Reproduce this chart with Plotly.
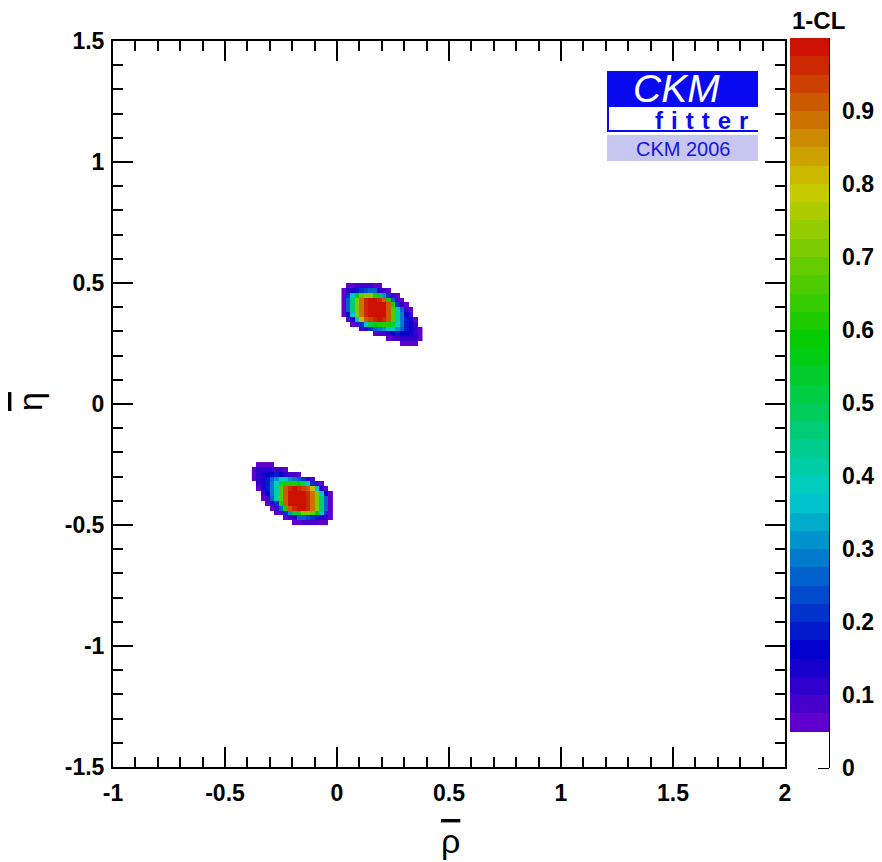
import colorsys
import plotly.graph_objects as go

# ---------------------------------------------------------------- axes
rho_range = [-1.0, 2.0]
eta_range = [-1.5, 1.5]
rho_ticks = [-1, -0.5, 0, 0.5, 1, 1.5, 2]
rho_tick_text = ["-1", "-0.5", "0", "0.5", "1", "1.5", "2"]
eta_ticks = [-1.5, -1, -0.5, 0, 0.5, 1, 1.5]
eta_tick_text = ["-1.5", "-1", "-0.5", "0", "0.5", "1", "1.5"]
cl_ticks = [0, 0.1, 0.2, 0.3, 0.4, 0.5, 0.6, 0.7, 0.8, 0.9]
cl_tick_text = ["0", "0.1", "0.2", "0.3", "0.4", "0.5", "0.6", "0.7", "0.8", "0.9"]

# ------------------------------------------- 1-CL maps (percent, 0 = not shown)
# solution with eta > 0 : columns are rho bin centres, rows go from top to bottom
upper_rho = [0.03, 0.05, 0.07, 0.09, 0.11, 0.13, 0.15, 0.17, 0.19,
             0.21, 0.23, 0.25, 0.27, 0.29, 0.31, 0.33, 0.35, 0.37]
upper_eta = [0.49, 0.47, 0.45, 0.43, 0.41, 0.39, 0.37, 0.35, 0.33,
             0.31, 0.29, 0.27, 0.25]
upper_cl = [
    [0, 7, 7, 8, 8, 8, 8, 7, 7, 0, 0, 0, 0, 0, 0, 0, 0, 0],
    [7, 10, 14, 19, 22, 24, 25, 25, 12, 8, 7, 0, 0, 0, 0, 0, 0, 0],
    [7, 21, 37, 55, 68, 72, 70, 62, 50, 30, 20, 8, 7, 0, 0, 0, 0, 0],
    [7, 25, 45, 70, 88, 96, 100, 100, 95, 90, 60, 25, 9, 7, 0, 0, 0, 0],
    [7, 25, 45, 70, 88, 96, 100, 100, 100, 98, 92, 60, 21, 10, 7, 0, 0, 0],
    [7, 25, 45, 70, 88, 96, 100, 100, 100, 98, 92, 65, 40, 26, 9, 6, 0, 0],
    [7, 15, 37, 70, 88, 96, 100, 100, 100, 98, 92, 65, 40, 28, 17, 8, 0, 0],
    [0, 7, 14, 35, 80, 90, 93, 97, 98, 97, 92, 65, 40, 28, 18, 13, 7, 0],
    [0, 0, 7, 8, 22, 35, 50, 55, 60, 62, 60, 50, 38, 28, 18, 14, 10, 0],
    [0, 0, 0, 0, 8, 12, 20, 25, 28, 30, 35, 38, 32, 26, 18, 14, 10, 7],
    [0, 0, 0, 0, 0, 0, 0, 7, 8, 9, 12, 16, 18, 16, 15, 13, 10, 7],
    [0, 0, 0, 0, 0, 0, 0, 0, 0, 0, 7, 8, 8, 10, 10, 10, 10, 7],
    [0, 0, 0, 0, 0, 0, 0, 0, 0, 0, 0, 0, 0, 7, 7, 7, 7, 0],
]

# solution with eta < 0
lower_rho = [-0.37, -0.35, -0.33, -0.31, -0.29, -0.27, -0.25, -0.23, -0.21,
             -0.19, -0.17, -0.15, -0.13, -0.11, -0.09, -0.07, -0.05, -0.03]
lower_eta = [-0.25, -0.27, -0.29, -0.31, -0.33, -0.35, -0.37, -0.39, -0.41,
             -0.43, -0.45, -0.47, -0.49]
lower_cl = [
    [0, 7, 7, 7, 7, 0, 0, 0, 0, 0, 0, 0, 0, 0, 0, 0, 0, 0],
    [7, 10, 10, 10, 10, 8, 8, 7, 0, 0, 0, 0, 0, 0, 0, 0, 0, 0],
    [7, 10, 13, 15, 16, 18, 16, 12, 9, 8, 7, 0, 0, 0, 0, 0, 0, 0],
    [7, 10, 14, 18, 26, 32, 38, 35, 30, 28, 25, 20, 12, 8, 0, 0, 0, 0],
    [0, 10, 14, 18, 28, 38, 50, 60, 62, 60, 55, 50, 35, 22, 8, 7, 0, 0],
    [0, 7, 13, 18, 28, 40, 65, 92, 97, 98, 97, 93, 90, 80, 35, 14, 7, 0],
    [0, 0, 8, 17, 28, 40, 65, 92, 98, 100, 100, 100, 96, 88, 70, 37, 15, 7],
    [0, 0, 6, 9, 26, 40, 65, 92, 98, 100, 100, 100, 96, 88, 70, 45, 25, 7],
    [0, 0, 0, 7, 10, 21, 60, 92, 98, 100, 100, 100, 96, 88, 70, 45, 25, 7],
    [0, 0, 0, 0, 7, 9, 25, 60, 90, 95, 100, 100, 96, 88, 70, 45, 25, 7],
    [0, 0, 0, 0, 0, 7, 8, 20, 30, 50, 62, 70, 72, 68, 55, 37, 21, 7],
    [0, 0, 0, 0, 0, 0, 0, 7, 8, 12, 25, 25, 24, 22, 19, 14, 10, 7],
    [0, 0, 0, 0, 0, 0, 0, 0, 0, 7, 7, 8, 8, 8, 8, 7, 7, 0],
]

# ---------------------------------------------------------------- geometry
W, H = 882, 862
FRAME_L, FRAME_R, FRAME_T, FRAME_B = 113, 785, 41, 767
BAR_L, BAR_R, BAR_TOP, BAR_BOT = 790, 829, 38, 768   # colour scale, z = 1 .. 0


def px_x(px):
    return (px - FRAME_L) / (FRAME_R - FRAME_L)


def px_y(py):
    return (FRAME_B - py) / (FRAME_B - FRAME_T)


# ------------------------------------------- rainbow palette in 40 z-levels
N_LEVELS = 40
colorscale = []
for k in range(N_LEVELS):
    if k < 2:
        col = "rgb(255,255,255)"
    else:
        hue = 268.0 - (k - 2) * 263.0 / 37.0
        r, g, b = colorsys.hls_to_rgb(hue / 360.0, 0.4, 1.0)
        col = f"rgb({round(r * 255)},{round(g * 255)},{round(b * 255)})"
    colorscale.append([k / N_LEVELS, col])
    colorscale.append([(k + 1) / N_LEVELS, col])


def to_z(rows):
    # rows are listed top to bottom; heatmap wants increasing y
    return [[(v / 100.0 if v > 0 else None) for v in row] for row in reversed(rows)]


BOLD = dict(family="Liberation Sans", size=23, color="black", weight="bold")

fig = go.Figure()
fig.add_trace(go.Heatmap(
    x=upper_rho, y=list(reversed(upper_eta)), z=to_z(upper_cl),
    zmin=0, zmax=1, colorscale=colorscale, zsmooth=False,
    hoverongaps=False,
    colorbar=dict(
        x=px_x(BAR_L), xanchor="left", xpad=0,
        y=px_y((BAR_TOP + BAR_BOT) / 2), yanchor="middle", ypad=0,
        len=BAR_BOT - BAR_TOP, lenmode="pixels",
        thickness=BAR_R - BAR_L, thicknessmode="pixels",
        outlinewidth=0,
        tickmode="array", tickvals=cl_ticks, ticktext=cl_tick_text,
        # invisible outer ticks push the labels away from the bar;
        # the visible inner ticks are drawn below as shapes
        ticks="outside", ticklen=9, tickwidth=2, tickcolor="rgba(0,0,0,0)",
        tickfont=BOLD,
    ),
))
fig.add_trace(go.Heatmap(
    x=lower_rho, y=list(reversed(lower_eta)), z=to_z(lower_cl),
    zmin=0, zmax=1, colorscale=colorscale, zsmooth=False,
    hoverongaps=False, showscale=False,
))

axis_common = dict(
    ticks="inside", ticklen=20, tickwidth=2, tickcolor="black",
    showline=True, linewidth=2, linecolor="black", mirror="allticks",
    showgrid=False, zeroline=False, tickfont=BOLD,
    minor=dict(tickmode="linear", tick0=0, dtick=0.1, ticks="inside",
               ticklen=10, tickwidth=2, tickcolor="black", showgrid=False),
)
fig.update_layout(
    width=W, height=H,
    margin=dict(l=FRAME_L, r=W - FRAME_R, t=FRAME_T, b=H - FRAME_B, pad=0,
                autoexpand=False),
    paper_bgcolor="white", plot_bgcolor="white",
    showlegend=False,
    xaxis=dict(range=rho_range, tickmode="array", tickvals=rho_ticks,
               ticktext=rho_tick_text, ticklabelstandoff=4, **axis_common),
    yaxis=dict(range=eta_range, tickmode="array", tickvals=eta_ticks,
               ticktext=eta_tick_text, ticklabelstandoff=2, **axis_common),
)

# right-hand axis line of the colour scale with inward ticks
fig.add_shape(type="line", xref="paper", yref="paper",
              x0=px_x(BAR_R), x1=px_x(BAR_R), y0=px_y(BAR_TOP), y1=px_y(BAR_BOT),
              line=dict(color="black", width=2), layer="above")
for v in cl_ticks:
    ty = BAR_BOT - v * (BAR_BOT - BAR_TOP)
    fig.add_shape(type="line", xref="paper", yref="paper",
                  x0=px_x(BAR_R - 11), x1=px_x(BAR_R), y0=px_y(ty), y1=px_y(ty),
                  line=dict(color="black", width=2), layer="above")

annotations = [
    dict(text="1-CL", x=px_x(818), y=px_y(21),
         font=dict(family="Liberation Sans", size=24, color="black", weight="bold")),
    dict(text="<span style='text-decoration:overline'>\u03c1</span>",
         x=px_x(450), y=px_y(862), yanchor="bottom",
         font=dict(family="Liberation Sans", size=34, color="black")),
    dict(text="<span style='text-decoration:overline'>\u03b7</span>",
         x=px_x(30), y=px_y(402), textangle=-90,
         font=dict(family="Liberation Sans", size=34, color="black")),
]

# CKMfitter logo
LOGO_L, LOGO_R = 607, 758
fig.add_shape(type="rect", xref="paper", yref="paper",
              x0=px_x(LOGO_L), x1=px_x(LOGO_R), y0=px_y(107), y1=px_y(71),
              fillcolor="#0a0af0", line=dict(width=0), layer="above")
fig.add_shape(type="rect", xref="paper", yref="paper",
              x0=px_x(LOGO_L), x1=px_x(LOGO_R), y0=px_y(161), y1=px_y(135),
              fillcolor="#c6c6f0", line=dict(width=0), layer="above")
fig.add_shape(type="line", xref="paper", yref="paper",
              x0=px_x(LOGO_L + 1), x1=px_x(LOGO_L + 1), y0=px_y(132), y1=px_y(107),
              line=dict(color="#0a0af0", width=2), layer="above")
fig.add_shape(type="line", xref="paper", yref="paper",
              x0=px_x(LOGO_L), x1=px_x(LOGO_R), y0=px_y(131), y1=px_y(131),
              line=dict(color="#0a0af0", width=2), layer="above")
annotations += [
    dict(text="<i>CKM</i>", x=px_x(676), y=px_y(88),
         font=dict(family="Liberation Sans", size=39, color="white")),
    dict(text="f\u2004i\u2004t\u2004t\u2004e\u2004r", x=px_x(701), y=px_y(120),
         font=dict(family="Liberation Sans", size=24, color="#0a0af0", weight="bold")),
    dict(text="CKM 2006", x=px_x(683), y=px_y(149),
         font=dict(family="Liberation Sans", size=20, color="#1414e6")),
]
for a in annotations:
    a.setdefault("yanchor", "middle")
    a.update(xref="paper", yref="paper", showarrow=False, xanchor="center")
fig.update_layout(annotations=annotations)

fig.write_html("out.html")
